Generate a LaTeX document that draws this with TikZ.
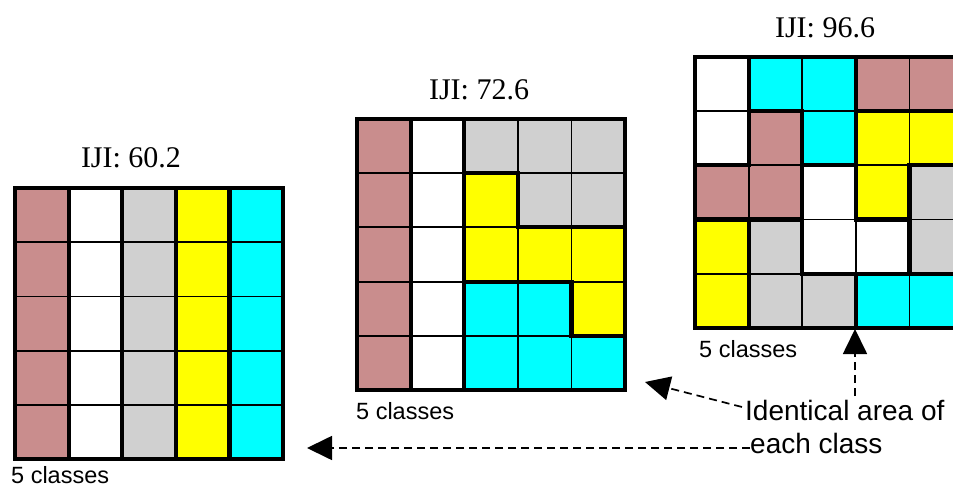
\documentclass[tikz,border=0pt]{standalone}
\usepackage{fontspec}
\setmainfont{Liberation Serif}
\setsansfont{Liberation Sans}
\usetikzlibrary{arrows.meta}
\definecolor{rose}{RGB}{201,141,141}
\definecolor{lgray}{RGB}{208,208,208}
\definecolor{yel}{RGB}{255,255,0}
\definecolor{cyn}{RGB}{0,255,255}
% 0 rose, 1 white, 2 gray, 3 yellow, 4 cyan
\def\gA{{0,1,2,3,4, 0,1,2,3,4, 0,1,2,3,4, 0,1,2,3,4, 0,1,2,3,4}}
\def\gB{{0,1,2,2,2, 0,1,3,2,2, 0,1,3,3,3, 0,1,4,4,3, 0,1,4,4,4}}
\def\gC{{1,4,4,0,0, 1,0,4,3,3, 0,0,1,3,2, 3,2,1,1,2, 3,2,2,4,4}}
\def\cw{53.6}
\def\ch{54.2}
\tikzset{
  thinline/.style={line width=1.8pt, draw=black},
  thickline/.style={line width=4.2pt, draw=black, line cap=rect},
  ttl/.style={font=\fontsize{30}{34}\selectfont, inner sep=0pt},
  cls/.style={font=\sffamily\fontsize{23.5}{26}\selectfont, inner sep=0pt, anchor=west},
  notetext/.style={font=\sffamily\fontsize{28}{32}\selectfont, inner sep=0pt, anchor=west},
  dasharrow/.style={line width=1.7pt, dash pattern=on 8pt off 5pt, -{Triangle[length=25pt,width=24pt]}},
}
\newcommand\drawgrid[3]{%
  \foreach \ri in {0,...,4}{%
    \foreach \ci in {0,...,4}{%
      \pgfmathtruncatemacro\gv{#3[\ri*5+\ci]}%
      \pgfmathparse{{"rose","white","lgray","yel","cyn"}[\gv]}%
      \edef\gcn{\pgfmathresult}%
      \fill[fill=\gcn] ({#1+\ci*\cw},{#2+\ri*\ch}) rectangle ++(\cw,\ch);
    }}%
  \foreach \k in {1,...,4}{%
    \draw[thinline] ({#1+\k*\cw},{#2}) -- ++(0,{5*\ch});
    \draw[thinline] ({#1},{#2+\k*\ch}) -- ++({5*\cw},0);
  }%
  \foreach \ri in {0,...,4}{\foreach \ci in {0,...,3}{%
    \pgfmathtruncatemacro\ga{#3[\ri*5+\ci]}%
    \pgfmathtruncatemacro\gb{#3[\ri*5+\ci+1]}%
    \ifnum\ga=\gb\else
      \draw[thickline] ({#1+(\ci+1)*\cw},{#2+\ri*\ch}) -- ++(0,\ch);
    \fi
  }}%
  \foreach \ri in {0,...,3}{\foreach \ci in {0,...,4}{%
    \pgfmathtruncatemacro\ga{#3[\ri*5+\ci]}%
    \pgfmathtruncatemacro\gb{#3[\ri*5+\ci+5]}%
    \ifnum\ga=\gb\else
      \draw[thickline] ({#1+\ci*\cw},{#2+(\ri+1)*\ch}) -- ++(\cw,0);
    \fi
  }}%
  \draw[thickline] (#1,#2) rectangle ++({5*\cw},{5*\ch});
}
\begin{document}
\begin{tikzpicture}[x=1pt,y=-1pt]
\useasboundingbox[fill=white] (0,0) rectangle (953,489);
\drawgrid{15}{188}{\gA}
\drawgrid{357}{119}{\gB}
\begin{scope}
  \clip (0,0) rectangle (953,489);
  \drawgrid{695}{57}{\gC}
\end{scope}
\node[ttl] (t1) at (131,158) {IJI: 60.2};
\node[ttl] (t2) at (479,90) {IJI: 72.6};
\node[ttl] (t3) at (825,28) {IJI: 96.6};
\node[cls] (c1) at (11,475) {5 classes};
\node[cls] (c2) at (356,411) {5 classes};
\node[cls] (c3) at (699,349) {5 classes};
\node[notetext] (ident) at (745,410) {Identical area of};
\node[notetext] (each) at (750,443) {each class};
\coordinate (tipA) at (307,448);
\coordinate (tipB) at (645,382);
\coordinate (tipC) at (855,329);
\coordinate (vstart) at (855,396);
\draw[dasharrow] ([yshift=-5pt]each.west) -- (tipA);
\draw[dasharrow] ([xshift=-3pt,yshift=3pt]ident.west) -- (tipB);
\draw[dasharrow] (vstart) -- (tipC);
\end{tikzpicture}
\end{document}
